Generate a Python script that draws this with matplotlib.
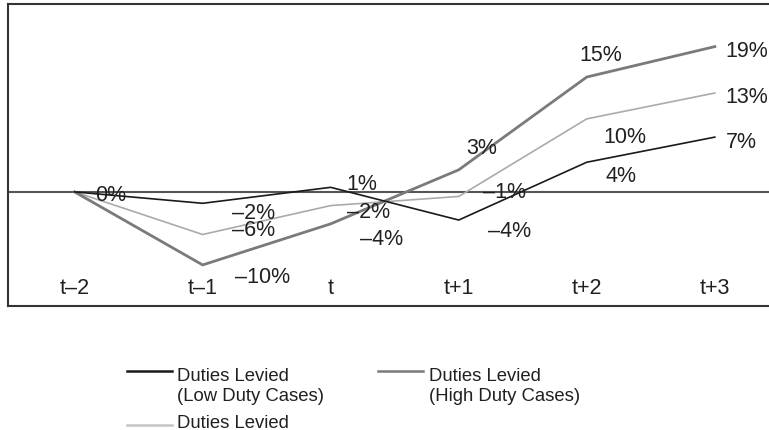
import matplotlib
matplotlib.use("Agg")
import matplotlib.pyplot as plt
from matplotlib.lines import Line2D

plt.rcParams['font.family'] = ['Liberation Sans', 'DejaVu Sans']

periods = ["t\u20132", "t\u20131", "t", "t+1", "t+2", "t+3"]
low_duty = [0.0, -1.5, 0.6, -3.7, 3.9, 7.2]
high_duty = [0.0, -9.6, -4.2, 2.9, 15.1, 19.1]
all_cases = [0.0, -5.6, -1.8, -0.6, 9.6, 13.0]

legend_labels = ["Duties Levied\n(Low Duty Cases)",
                 "Duties Levied\n(High Duty Cases)",
                 "Duties Levied"]

# label offsets in pixels (dx, dy up); None = no label
low_off = [(36, 0), (51, -7), (31, 6), (51, -8), (34, -11), (27, -2)]
all_off = [None, (51, 7), (38, -3), (46, 7), (38, -15), (32, -1)]
high_off = [None, (60, -9), (51, -12), (23, 25), (14, 25), (32, -1)]

W, H = 769, 431
fig = plt.figure(figsize=(W / 100, H / 100), dpi=100)
ax = fig.add_axes([8 / W, (H - 307) / H, (775 - 8) / W, (307 - 5) / H])

txt_color = '#231f20'
c_low, c_high, c_all = '#1a1a1a', '#7a7a7a', '#ababab'

x = list(range(len(periods)))
ax.axhline(0, color='#555555', lw=1.5, zorder=1)
ax.plot(x, all_cases, color=c_all, lw=1.2, zorder=2)
ax.plot(x, high_duty, color=c_high, lw=2.0, zorder=3)
ax.plot(x, low_duty, color=c_low, lw=1.2, zorder=4)

ax.set_xlim(-0.52, 5.47)
ax.set_ylim(-15.0, 24.7)
ax.set_xticks([])
ax.set_yticks([])
for s in ax.spines.values():
    s.set_color('#333333')
    s.set_linewidth(1.5)

fs = 15.5
for series, offs in ((low_duty, low_off), (all_cases, all_off), (high_duty, high_off)):
    for xi, (v, o) in enumerate(zip(series, offs)):
        if o is None:
            continue
        lab = f"{round(v):d}%".replace("-", "\u2013")
        ax.annotate(lab, (xi, v), xytext=o, textcoords='offset pixels',
                    ha='center', va='center_baseline', fontsize=fs,
                    color=txt_color, zorder=5)

for xi, p in enumerate(periods):
    ax.text(xi, (307 - 286) / (307 - 5), p, transform=ax.get_xaxis_transform(),
            ha='center', va='center_baseline', fontsize=fs, color=txt_color)

# legend (manual); ty = baseline of last text line
lfs = 13.3
entries = [(legend_labels[0], c_low, 127, 172, 372, 177, 401),
           (legend_labels[1], c_high, 378, 423, 372, 429, 401),
           (legend_labels[2], '#c4c4c4', 127, 172, 426, 177, 428)]
for lab, col, x0, x1, ly, tx, ty in entries:
    fig.add_artist(Line2D([x0 / W, x1 / W], [1 - ly / H, 1 - ly / H],
                          color=col, lw=1.8, transform=fig.transFigure))
    fig.text(tx / W, 1 - ty / H, lab, ha='left', va='baseline', fontsize=lfs,
             color=txt_color, linespacing=1.2)

fig.savefig("out.png", dpi=100)
